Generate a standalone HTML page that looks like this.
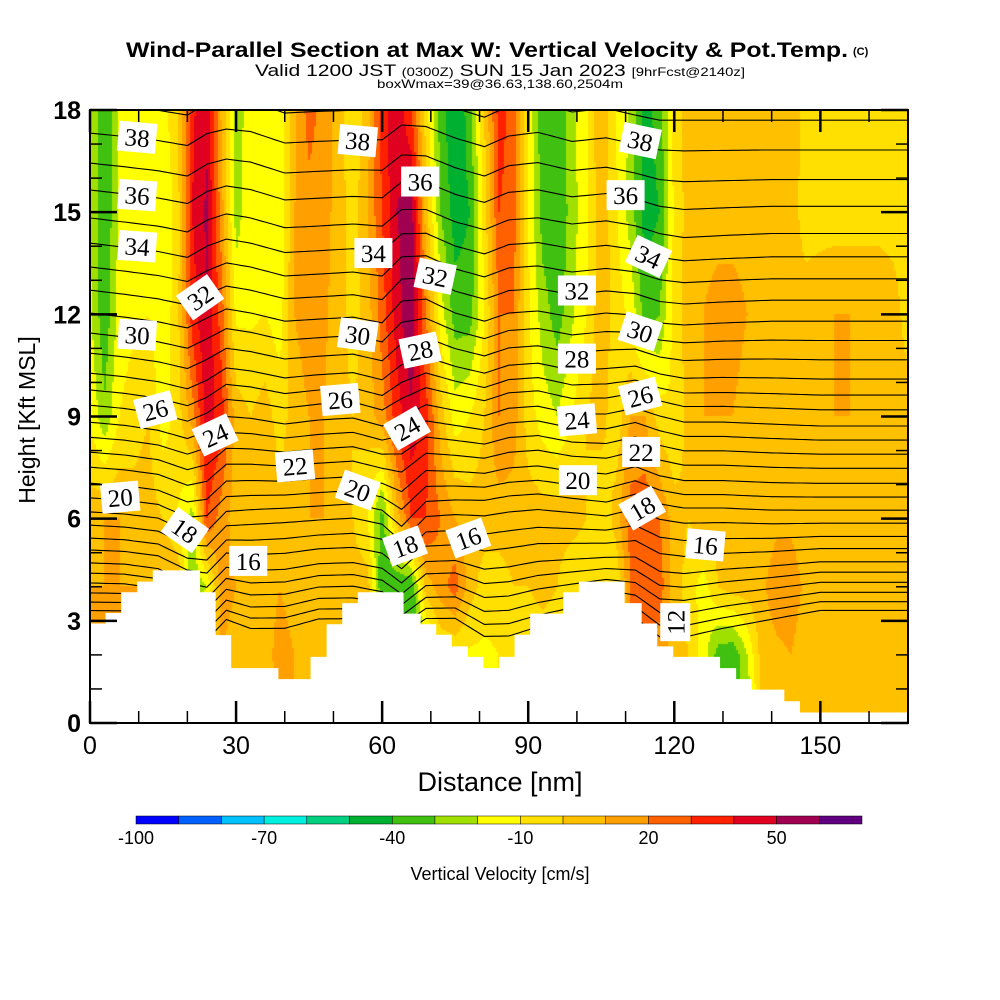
<!DOCTYPE html>
<html><head><meta charset="utf-8">
<style>
html,body{margin:0;padding:0;background:#fff;}
#wrap{position:relative;width:1000px;height:1000px;overflow:hidden;background:#fff;}
#field{position:absolute;left:90px;top:110px;}
#over{position:absolute;left:0;top:0;}
text{font-family:"Liberation Sans",sans-serif;}
.lab text{font-family:"Liberation Serif",serif;}
</style></head>
<body>
<div id="wrap">
<canvas id="field" width="818" height="613"></canvas>
<svg id="over" width="1000" height="1000" xmlns="http://www.w3.org/2000/svg">
  <defs><clipPath id="pc"><rect x="90" y="110" width="818" height="613"/></clipPath></defs>
  <g>
    <text x="126" y="57" font-size="21" font-weight="bold" textLength="722" lengthAdjust="spacingAndGlyphs">Wind-Parallel Section at Max W: Vertical Velocity &amp; Pot.Temp.</text>
    <text x="853" y="55" font-size="11" font-weight="bold">(C)</text>
    <text x="255" y="76" font-size="17" textLength="490" lengthAdjust="spacingAndGlyphs">Valid 1200 JST <tspan font-size="12">(0300Z)</tspan> SUN 15 Jan 2023 <tspan font-size="12">[9hrFcst@2140z]</tspan></text>
    <text x="377" y="88" font-size="12" textLength="246" lengthAdjust="spacingAndGlyphs">boxWmax=39@36.63,138.60,2504m</text>
  </g>
  <g id="contours" clip-path="url(#pc)"></g>
  <path id="terrain" fill="#fff" stroke="none"/>
  <g id="labels" class="lab" clip-path="url(#pc)"></g>
  <rect x="90" y="110" width="818" height="613" fill="none" stroke="#000" stroke-width="2"/>
  <g id="ticks"></g>
  <g id="ticklabels"></g>
  <text x="500" y="791" font-size="27" text-anchor="middle">Distance [nm]</text>
  <text transform="translate(35,420) rotate(-90)" font-size="23" text-anchor="middle">Height [Kft MSL]</text>
  <g id="cbar"></g>
  <text x="500" y="880" font-size="18" text-anchor="middle">Vertical Velocity [cm/s]</text>
</svg>
</div>
<script>
// ---------- data ----------
const wCols = [0,3,6,9,12,15,18,21,24,27,30,33,36,39,42,45,48,51,54,57,60,63,66,69,72,75,78,81,84,87,90,93,96,99,102,105,108,111,114,117,120,123,126,129,132,135,138,141,144,147,150,153,156,159,162,165,168];
const wHeights = [0,2,4,6,9,12,15,18];
const w0  = [10,10,10,10,10,10,10,10,10,10, 5,10,5,10,10,0,5,5,5,5, 5,5,-30,-30,-10,-10,-12,-12,-10,-10, -10,-10,-10,-10,-10,-10,-10,20,20,15, 5,0,-15,-35,-38,-30,0,-5,5,5, 5,5,5,5,5,5,5];
const w2  = [10,10,10,10,10,10,10,10,10,10, 5,10,5,15,10,0,5,5,5,5, 5,5,-40,-30,-10,-10,-12,-12,-10,-10, -10,-10,-10,-10,-10,-10,-10,20,20,15, 5,0,-15,-35,-38,-20,5,8,10,5, 5,5,5,5,5,5,5];
const w4  = [10,10,10,10,10,10,10,-30,-20,15, 10,5,5,10,5,5,5,0,5,5, -40,-40,-40,5,15,25,5,-5,-5,0, 0,5,0,-10,-10,-10,-10,20,30,25, 5,-5,-15,0,5,5,8,15,15,8, 5,5,5,5,5,5,5];
const w6  = [5,10,10,5,5,0,-10,-25,30,15, 5,5,10,5,5,10,10,5,0,-10, -35,5,30,30,20,10,5,5,5,5, 5,5,5,5,0,-10,5,25,28,20, 5,0,5,5,5,5,5,8,8,5, 5,5,5,5,5,5,5];
const w9  = [-10,-28,-10,-5,0,-15,-5,15,45,35, 5,0,5,-5,5,10,10,5,0,5, 15,35,48,35,5,-15,-10,0,20,15, -5,-15,-20,-10,0,5,-8,10,10,-5, -10,5,10,10,10,5,5,5,5,8, 10,10,10,5,5,5,5];
const w12 = [-18,-38,-15,-12,-10,-18,-3,35,50,25, -12,-12,-10,-15,10,15,12,5,-5,5, 25,45,60,20,-15,-35,-35,-10,20,20, -8,-25,-35,-22,-10,8,-5,-12,-35,-30, -5,5,10,15,15,10,5,5,5,5, 8,10,10,10,10,5,-5];
const w15 = [-20,-40,-18,-13,-12,-20,-5,40,52,15, -25,-12,-12,-18,10,15,15,5,-5,10, 30,50,55,5,-30,-45,-40,-5,30,25, -10,-35,-40,-25,-12,8,-8,-25,-45,-40, -8,5,5,5,5,5,5,5,5,-5, -5,-5,-5,-5,-5,-5,-5];
const w18 = [-20,-40,-18,-14,-12,-15,0,38,48,8, -25,-15,-12,-18,8,25,15,5,-8,5, 35,48,30,-5,-35,-50,-35,0,35,25, -12,-38,-40,-22,-12,10,-10,-22,-45,-35, -5,5,5,5,5,5,5,5,5,-3, -5,-5,-5,-5,-5,-10,-5];
const wRows = [w0,w2,w4,w6,w9,w12,w15,w18];

const levels = [-100,-90,-80,-70,-60,-50,-40,-30,-20,-10,0,10,20,30,40,50,60,70];
const colors = ["#0000ff","#0060ff","#00c0ff","#00f0e0","#00d080","#00b030","#40c010","#a0e000","#ffff00","#ffe000","#ffc000","#ffa000","#ff6000","#ff2000","#e00020","#a00050","#600080"];
const cbarTicks = [-100,-70,-40,-10,20,50];

const terrainStart = [0,3.2,6.4,9.7,12.9,22.6,25.8,29,38.7,45.3,48.6,51.8,55,64.4,67.9,71.1,74.3,77.6,80.8,84,87.2,90.4,97.2,100.4,109.8,113.3,116.5,119.8,129.4,132.7,135.9,142.6,145.8];
const terrainH     = [2.92,3.23,3.84,4.15,4.48,3.84,2.58,1.61,1.29,1.94,2.9,3.52,3.84,3.21,2.9,2.59,2.25,1.94,1.61,1.94,2.59,3.21,3.84,4.15,3.52,2.92,2.25,1.94,1.61,1.29,0.98,0.64,0.31];

const thetas  = [10,11,12,13,14,15,16,17,18,19,20,21,22,23,24,25,26,27,28,29,30,31,32,33,34,35,36,37,38,39];
const thetaZ0 = [3.3,3.55,3.82,4.11,4.40,4.70,5.08,5.43,5.81,6.2,6.61,7.04,7.51,7.95,8.39,8.83,9.33,9.78,10.27,10.86,11.45,12.04,12.71,13.39,14.09,14.83,15.65,16.44,17.32,18.2];
const dCols = [0,7,14,20,24,28,33,40,47,54,60,64,69,75,81,86,92,99,106,112,117,122,130,140,150,168];
const dHeights = [3,6,9,12,15,18];
const d3  = [0,0,-.15,-.59,-.88,-.29,-.59,-.59,-.29,-.29,-.44,-.74,-.29,-.29,-.88,-.88,-.59,-.29,0,-.29,-.88,-.88,-.59,-.29,0,0];
const d6  = [0,-.06,-.18,-.59,-.59,0,.06,.12,.18,.24,.06,-.47,.29,.35,.35,.47,.53,.41,.29,.53,.24,.12,.12,.06,.06,.06];
const d9  = [0,-.09,-.24,-.47,-.24,.18,.12,-.06,.06,.12,-.12,.18,.53,.35,.18,.41,.47,.24,.24,.41,.18,0,0,-.06,-.12,-.12];
const d12 = [0,-.12,-.26,-.44,-.15,.12,0,-.24,-.18,-.12,-.29,.35,.41,0,-.24,0,.06,-.12,0,-.06,-.29,-.35,-.29,-.24,-.24,-.24];
const d15 = [0,-.12,-.24,-.41,-.06,.12,0,-.29,-.24,-.18,-.24,.24,.24,-.12,-.35,-.06,0,-.18,-.09,-.24,-.47,-.59,-.53,-.47,-.47,-.47];
const d18 = [0,-.09,-.21,-.35,0,.12,.06,-.29,-.24,-.21,-.18,.24,.18,-.15,-.41,-.09,.03,-.26,-.15,-.35,-.5,-.5,-.5,-.5,-.5,-.5];
const dRows = [d3,d6,d9,d12,d15,d18];

const labelText = ["38","38","38","36","36","36","34","34","34","32","32","32","30","30","30","28","28","26","26","26","24","24","24","22","22","20","20","20","18","18","18","16","16","16","12"];
const labelX = [9.7,55,113, 9.7,67.8,110, 9.7,58.2,114.7, 22.6,70.9,100, 9.7,55,113, 67.8,100, 13.4,51.4,113, 25.7,65.1,100, 42.1,113.2, 6.2,55,100.2, 19.5,64.7,113.4, 32.5,77.7,126.4, 120.2];
const labelY = [17.2,17.1,17.1, 15.5,15.9,15.5, 14.0,13.8,13.7, 12.5,13.12,12.7, 11.4,11.4,11.5, 10.95,10.7, 9.2,9.5,9.6, 8.46,8.66,8.9, 7.55,7.96, 6.63,6.84,7.13, 5.66,5.2,6.31, 4.76,5.43,5.23, 2.96];
const labelRot = [5,5,12, 4,0,0, 4,0,25, -35,12,0, 3,8,18, -12,0, -15,-5,-15, -25,-30,-5, -5,0, -5,20,0, 35,-20,-30, 0,-20,5, -90];

// ---------- axes ----------
const px = nm => 90 + nm * 818 / 168;
const py = k => 723 - k * 613 / 18;
const NS = "http://www.w3.org/2000/svg";
function mk(tag, attrs, parent){ const e=document.createElementNS(NS,tag); for(const k in attrs) e.setAttribute(k,attrs[k]); parent.appendChild(e); return e; }

function seg(arr, v){ let i=0; while(i<arr.length-2 && v>arr[i+1]) i++; let t=(v-arr[i])/(arr[i+1]-arr[i]); t=Math.max(0,Math.min(1,t)); return [i,t]; }
function bil(cols, hs, rows, x, z){
  const [i,tx]=seg(cols,x), [j,tz]=seg(hs,z);
  const a=rows[j][i]*(1-tx)+rows[j][i+1]*tx, b=rows[j+1][i]*(1-tx)+rows[j+1][i+1]*tx;
  return a*(1-tz)+b*tz;
}

// ---------- field ----------
const ctx=document.getElementById('field').getContext('2d');
const S=2;
for(let cx=0;cx<818;cx+=S){
  for(let cy=0;cy<613;cy+=S){
    const nm=(cx+S/2)/818*168, k=18-(cy+S/2)/613*18;
    const v=bil(wCols,wHeights,wRows,nm,k);
    let b=Math.floor((v-levels[0])/10); b=Math.max(0,Math.min(colors.length-1,b));
    ctx.fillStyle=colors[b]; ctx.fillRect(cx,cy,S,S);
  }
}

// ---------- terrain ----------
let tp=`M${px(0)},${py(-1)}`;
for(let i=0;i<terrainStart.length;i++){
  const x1=terrainStart[i], x2=(i+1<terrainStart.length)?terrainStart[i+1]:168;
  tp+=` L${px(x1)},${py(terrainH[i])} L${px(x2)},${py(terrainH[i])}`;
}
tp+=` L${px(168)},${py(-1)} Z`;
document.getElementById('terrain').setAttribute('d',tp);

// ---------- isentropes ----------
const cg=document.getElementById('contours');
thetas.forEach((th,idx)=>{
  const z0=thetaZ0[idx]; let pts=[];
  for(let x=0;x<=168;x+=1){
    const z=z0+bil(dCols,dHeights,dRows,x,z0);
    pts.push(px(x).toFixed(1)+','+py(z).toFixed(1));
  }
  const pl=mk('polyline',{points:pts.join(' '),fill:'none',stroke:'#000','stroke-width':'1.1'},cg);
  
  
});

// ---------- isentrope labels ----------
const lg=document.getElementById('labels');
labelText.forEach((t,i)=>{
  const g=mk('g',{transform:`translate(${px(labelX[i])},${py(labelY[i])}) rotate(${labelRot[i]})`},lg);
  
  
  mk('rect',{x:-19,y:-15,width:38,height:30,fill:'#fff'},g);
  const tx=mk('text',{x:0,y:9,'font-size':'25','text-anchor':'middle',fill:'#000'},g);
  tx.textContent=t;
});

// ---------- ticks ----------
const tg=document.getElementById('ticks');
const tl=document.getElementById('ticklabels');
for(let x=0;x<=168;x+=10){
  const L=12;
  mk('line',{x1:px(x),y1:723,x2:px(x),y2:723-L,stroke:'#000','stroke-width':1.5},tg);
  mk('line',{x1:px(x),y1:110,x2:px(x),y2:110+L,stroke:'#000','stroke-width':1.5},tg);
}
for(let x=0;x<=150;x+=30){
  mk('line',{x1:px(x),y1:723,x2:px(x),y2:701,stroke:'#000','stroke-width':2.5},tg);
  mk('line',{x1:px(x),y1:110,x2:px(x),y2:132,stroke:'#000','stroke-width':2.5},tg);
  const t=mk('text',{x:px(x),y:754,'font-size':'25','text-anchor':'middle'},tl);
  
  
  t.textContent=x;
}
for(let k=0;k<=18;k+=1){
  mk('line',{x1:90,y1:py(k),x2:102,y2:py(k),stroke:'#000','stroke-width':1.5},tg);
  mk('line',{x1:908,y1:py(k),x2:896,y2:py(k),stroke:'#000','stroke-width':1.5},tg);
}
for(let k=0;k<=18;k+=3){
  mk('line',{x1:90,y1:py(k),x2:117,y2:py(k),stroke:'#000','stroke-width':2.5},tg);
  mk('line',{x1:908,y1:py(k),x2:881,y2:py(k),stroke:'#000','stroke-width':2.5},tg);
  const t=mk('text',{x:81,y:py(k)+9,'font-size':'25','font-weight':'bold','text-anchor':'end'},tl);
  
  
  t.textContent=k;
}

// ---------- colorbar ----------
const cb=document.getElementById('cbar');
const cbx=v=>136+(v-levels[0])/(levels[levels.length-1]-levels[0])*(862-136);
colors.forEach((c,i)=>{
  const r=mk('rect',{x:cbx(levels[i]),y:816,width:cbx(levels[i+1])-cbx(levels[i]),height:8,fill:c,stroke:'#000','stroke-width':0.5},cb);
  
  
});
cbarTicks.forEach(v=>{
  const t=mk('text',{x:cbx(v),y:844,'font-size':'18','text-anchor':'middle'},cb);
  
  
  t.textContent=v;
});
</script>
</body></html>
